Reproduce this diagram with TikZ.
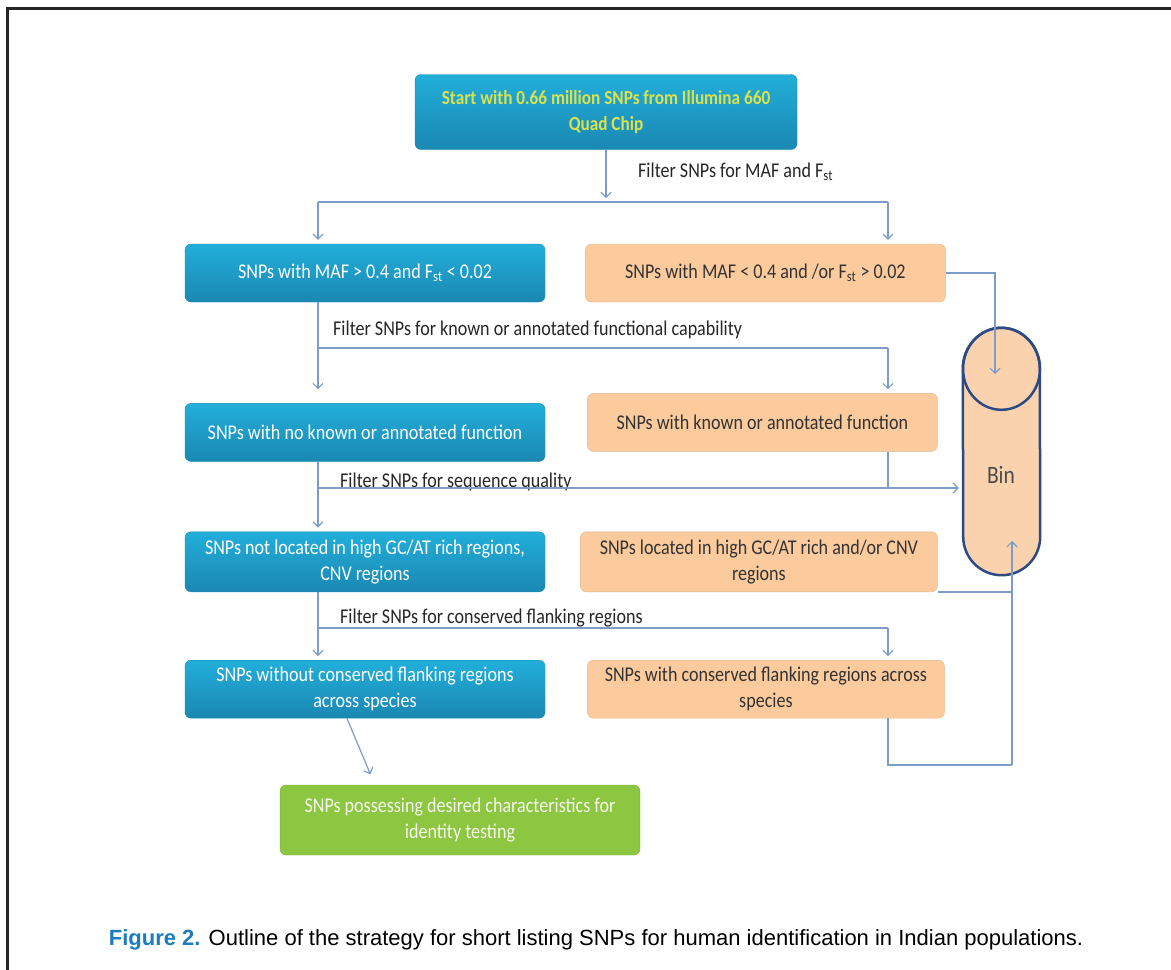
\documentclass[tikz,border=0pt]{standalone}
\usepackage{fontspec}
\setmainfont{Liberation Sans}
\newfontfamily\boxfont{Carlito}[FakeStretch=0.86]
\usetikzlibrary{positioning,arrows.meta}
\definecolor{keeptop}{HTML}{22AEDA}
\definecolor{keepbot}{HTML}{1A88B2}
\definecolor{dropfill}{HTML}{FBCB9D}
\definecolor{dropline}{HTML}{D9B891}
\definecolor{finalfill}{HTML}{8DC641}
\definecolor{starttext}{HTML}{D9E24C}
\definecolor{linkblue}{HTML}{7E9CC8}
\definecolor{binline}{HTML}{2E4A82}
\definecolor{binfill}{HTML}{FAD2AE}
\definecolor{capblue}{HTML}{1B7CC0}

\begin{document}
\begin{tikzpicture}[x=1pt,y=-1pt,>={Straight Barb[length=5pt,width=10pt]},
	box/.style={rounded corners=6pt,minimum height=58pt,align=center,inner sep=4pt,font=\boxfont\fontsize{21}{26}\selectfont},
	keep/.style={box,minimum width=360pt,top color=keeptop,bottom color=keepbot,draw=keepbot,text=white},
	drop/.style={box,minimum width=357pt,fill=dropfill,draw=dropline,text=black!80},
	filter/.style={inner sep=0pt,text=black!85,font=\boxfont\fontsize{21}{25}\selectfont},
	link/.style={draw=linkblue,line width=1.2pt,shorten >=4pt}]

	\useasboundingbox (0,0) rectangle (1171,970);
	\draw[line width=3pt,black!85] (7,970) -- (7,8) -- (1171,8);

	\node[keep,minimum width=382pt,minimum height=75pt,text=starttext,font=\boxfont\bfseries\fontsize{20}{26}\selectfont] (start) at (606,112) {Start with 0.66 million SNPs from Illumina 660\\Quad Chip};
	\node[keep] (keep1) at (365,273) {SNPs with MAF > 0.4 and F\textsubscript{st} < 0.02};
	\node[drop,minimum width=360pt] (drop1) [right=40pt of keep1] {SNPs with MAF < 0.4 and /or F\textsubscript{st} > 0.02};
	\node[keep] (keep2) [below=101pt of keep1] {SNPs with no known or annotated function};
	\node[drop,minimum width=350pt] (drop2) [right=42pt of keep2, yshift=10pt] {SNPs with known or annotated function};
	\node[keep,minimum height=60pt] (keep3) [below=70pt of keep2] {SNPs not located in high GC/AT rich regions,\\CNV regions};
	\node[drop,minimum height=60pt] (drop3) [right=35pt of keep3] {SNPs located in high GC/AT rich and/or CNV\\regions};
	\node[keep] (keep4) [below=68pt of keep3] {SNPs without conserved flanking regions\\across species};
	\node[drop] (drop4) [right=42pt of keep4] {SNPs with conserved flanking regions across\\species};
	\node[box,minimum width=360pt,minimum height=70pt,fill=finalfill,draw=finalfill!90!black,text=white!90!finalfill] (final) at (460,820) {SNPs possessing desired characteristics for\\identity testing};

	\node[minimum width=77pt,minimum height=247pt,inner sep=0pt] (bin) at (1001.5,451.5) {};
	\draw[binline,fill=binfill,line width=2.5pt] ([yshift=-41pt]bin.north west) arc[start angle=180,end angle=0,x radius=38.5pt,y radius=41pt] -- ([yshift=38.5pt]bin.south east) arc[start angle=0,end angle=-180,radius=38.5pt] -- cycle;
	\draw[binline,line width=2.5pt] ([yshift=-41pt]bin.north) ellipse[x radius=38.5pt,y radius=41pt];
	\node[text=black!70,font=\boxfont\fontsize{25}{28}\selectfont] (binlabel) at (1001,475) {Bin};

	\node[filter,anchor=west] (filter1) at (638,172) {Filter SNPs for MAF and F\textsubscript{st}};
	\node[filter,anchor=west] (filter2) at (333,330) {Filter SNPs for known or annotated functional capability};
	\node[filter,anchor=base west] (filter3) at (340,487) {Filter SNPs for sequence quality};
	\node[filter,anchor=west] (filter4) at (340,618) {Filter SNPs for conserved flanking regions};

	\node[anchor=base,font=\fontsize{22}{26}\selectfont] (caption) at (596,945) {\textcolor{capblue}{\textbf{Figure 2.}} Outline of the strategy for short listing SNPs for human identification in Indian populations.};

	\coordinate (split1l) at (318,202);
	\coordinate (split1r) at (888,202);
	\coordinate (split2l) at (318,348);
	\coordinate (split2r) at (888,348);
	\coordinate (split3l) at (318,488);
	\coordinate (split4l) at (318,628);
	\coordinate (split4r) at (888,628);
	\coordinate (binin1) at (995,378);
	\coordinate (binin2) at (1012,537);
	\coordinate (back) at (1012,765);
	\coordinate (finalin) at (372,778);

	\draw[link,->] (start.south) -- (start.south |- split1l);
	\draw[link,shorten >=0pt] (split1l) -- (split1r);
	\draw[link,->] (split1l) -- (split1l |- keep1.north);
	\draw[link,->] (split1r) -- (split1r |- drop1.north);
	\draw[link,->] (drop1.east) -| (binin1);

	\draw[link,shorten >=0pt] (keep1.south -| split2l) -- (split2l) -- (split2r);
	\draw[link,->] (split2l) -- (split2l |- drop2.north);
	\draw[link,->] (split2r) -- (split2r |- drop2.north);

	\draw[link,shorten >=0pt] (keep2.south -| split3l) -- (split3l);
	\draw[link,shorten >=0pt] (drop2.south -| split2r) -- (split2r |- split3l);
	\draw[link,->] (split3l) -- (split3l |- keep3.north);
	\draw[link,->] (split3l) -- (split3l -| bin.west);

	\draw[link,shorten >=0pt] (keep3.south -| split4l) -- (split4l) -- (split4r);
	\draw[link,->] (split4l) -- (split4l |- keep4.north);
	\draw[link,->] (split4r) -- (split4r |- drop4.north);

	\draw[link,shorten >=0pt] (drop3.south east) -- (drop3.south east -| back);
	\draw[link,shorten >=0pt] (drop4.south -| split4r) -- (split4r |- back) -- (back);
	\draw[link,->] (back) -- (binin2);
	\draw[link,->] ([xshift=-18pt]keep4.south) -- (finalin);

\end{tikzpicture}
\end{document}
